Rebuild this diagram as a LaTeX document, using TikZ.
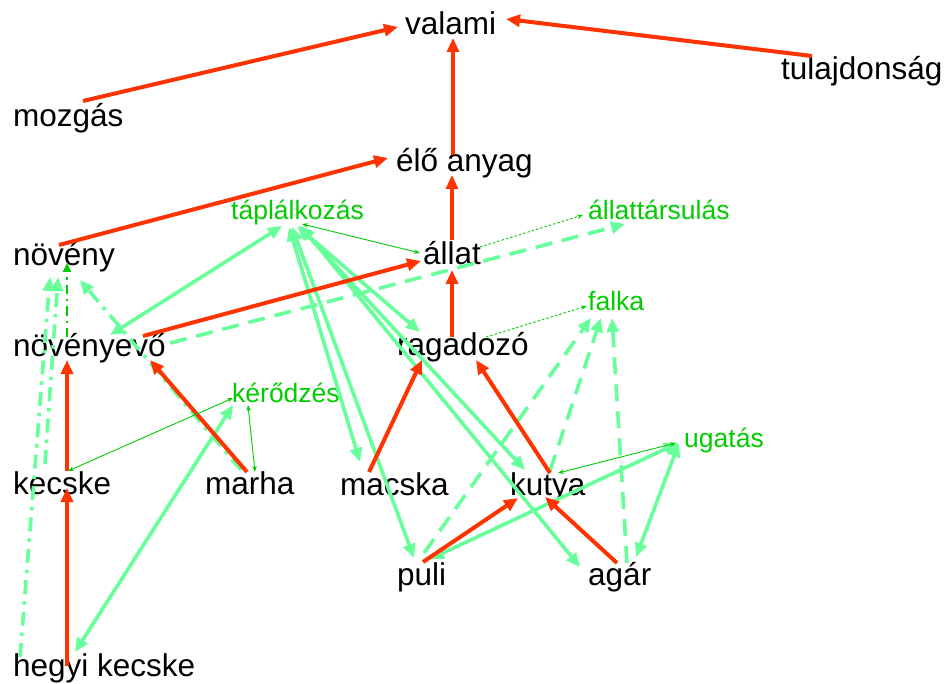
\documentclass[tikz,border=0pt]{standalone}
\usepackage{fontspec}
\setmainfont{Liberation Sans}
\usetikzlibrary{arrows.meta}
\definecolor{redc}{HTML}{FF3300}
\definecolor{lgreen}{HTML}{66FF99}
\definecolor{dgreen}{HTML}{00CC00}
\begin{document}
\begin{tikzpicture}[x=1pt,y=-1pt,
 concept/.style={anchor=base west,inner sep=0pt,font=\fontsize{31.5}{36}\selectfont,text=black},
 relation/.style={anchor=base west,inner sep=0pt,font=\fontsize{26.5}{30}\selectfont,text=dgreen},
 isa/.style={draw=redc,line width=4pt,-{Triangle[length=14pt,width=12pt]}},
 assoc/.style={draw=lgreen,line width=3.6pt,{Triangle[length=14pt,width=12pt]}-{Triangle[length=14pt,width=12pt]}},
 assocdash/.style={draw=lgreen,line width=3.6pt,dash pattern=on 17pt off 10pt,-{Triangle[length=14pt,width=12pt]}},
 assocdot/.style={draw=lgreen,line width=3.6pt,dash pattern=on 14pt off 7pt on 3.5pt off 7pt,-{Triangle[length=14pt,width=12pt]}},
 attr/.style={draw=dgreen,line width=0.9pt,{Stealth[length=6pt,width=4.5pt]}-{Stealth[length=6pt,width=4.5pt]}},
 attrdot/.style={draw=dgreen,line width=0.9pt,dash pattern=on 2.5pt off 2pt,-{Stealth[length=6pt,width=4.5pt]}},
 attrdd/.style={draw=dgreen,line width=2.2pt,dash pattern=on 9pt off 5pt on 2.5pt off 5pt,-{Triangle[length=9pt,width=8pt]}}
]
\fill[white] (0,0) rectangle (944,684);
\useasboundingbox (0,0) rectangle (944,684);

% concepts
\node[concept] (valami) at (405,35) {valami};
\node[concept] (tulaj) at (781,80) {tulajdonság};
\node[concept] (mozgas) at (13,127) {mozgás};
\node[concept] (elo) at (396,172) {élő anyag};
\node[concept] (noveny) at (13,266) {növény};
\node[concept] (allat) at (423,265) {állat};
\node[concept] (nevo) at (13,356) {növényevő};
\node[concept] (ragad) at (397,355) {ragadozó};
\node[concept] (kecske) at (13,494) {kecske};
\node[concept] (marha) at (205,494) {marha};
\node[concept] (macska) at (340,495) {macska};
\node[concept] (kutya) at (510,495) {kutya};
\node[concept] (puli) at (397,585) {puli};
\node[concept] (agar) at (588,585) {agár};
\node[concept] (hegyi) at (13,676) {hegyi kecske};
% relations
\node[relation] (tapl) at (231,220) {táplálkozás};
\node[relation] (atars) at (588,220) {állattársulás};
\node[relation] (falka) at (588,311) {falka};
\node[relation] (kero) at (232,402) {kérődzés};
\node[relation] (ugat) at (684,447) {ugatás};

% light green solid, double headed
\draw[assoc] ([shift={(97,-21)}]nevo.base west) -- ([shift={(51,6)}]tapl.base west);
\draw[assoc] ([shift={(58,7)}]tapl.base west) -- ([shift={(20,-33)}]macska.base west);
\draw[assoc] ([shift={(61,7)}]tapl.base west) -- ([shift={(17,-27)}]puli.base west);
\draw[assoc] ([shift={(66,6)}]tapl.base west) -- ([shift={(23,-23)}]ragad.base west);
\draw[assoc] ([shift={(68,6)}]tapl.base west) -- ([shift={(15,-25)}]kutya.base west);
\draw[assoc] ([shift={(70,6)}]tapl.base west) -- ([shift={(-8,-18)}]agar.base west);
\draw[assoc] ([shift={(62,-24)}]hegyi.base west) -- ([shift={(1,3)}]kero.base west);
\draw[assoc] ([shift={(33,-26)}]puli.base west) -- ([shift={(-6,-4)}]ugat.base west);
\draw[assoc] ([shift={(48,-28)}]agar.base west) -- ([shift={(-5,-4)}]ugat.base west);

% light green dashed
\draw[assocdash] ([shift={(157,-13)}]nevo.base west) -- ([shift={(37,4)}]atars.base west);
\draw[assocdash] ([shift={(27,-32)}]puli.base west) -- ([shift={(3,7)}]falka.base west);
\draw[assocdash] ([shift={(40,-24)}]kutya.base west) -- ([shift={(13,7)}]falka.base west);
\draw[assocdash] ([shift={(39,-22)}]agar.base west) -- ([shift={(24,7)}]falka.base west);

% light green dash-dot
\draw[assocdot] ([shift={(36,-24)}]marha.base west) -- ([shift={(67,14)}]noveny.base west);
\draw[assocdot] ([shift={(7,-19)}]hegyi.base west) -- ([shift={(37,11)}]noveny.base west);
\draw[assocdot] ([shift={(32,-30)}]kecske.base west) -- ([shift={(45,11)}]noveny.base west);

% red is-a links
\draw[isa] ([shift={(70,-26)}]mozgas.base west) -- ([shift={(-7,-8)}]valami.base west);
\draw[isa] ([shift={(31,-24)}]tulaj.base west) -- ([shift={(101,-16)}]valami.base west);
\draw[isa,line width=3.2pt] ([shift={(57,-17)}]elo.base west) -- ([shift={(48,3)}]valami.base west);
\draw[isa] ([shift={(46,-21)}]noveny.base west) -- ([shift={(-8,-14)}]elo.base west);
\draw[isa,line width=3.2pt] ([shift={(29,-25)}]allat.base west) -- ([shift={(56,3)}]elo.base west);
\draw[isa] ([shift={(130,-20)}]nevo.base west) -- ([shift={(-2,-4)}]allat.base west);
\draw[isa,line width=3.2pt] ([shift={(55,-18)}]ragad.base west) -- ([shift={(29,5)}]allat.base west);
\draw[isa] ([shift={(54,-23)}]kecske.base west) -- ([shift={(54,4)}]nevo.base west);
\draw[isa] ([shift={(54,-10)}]hegyi.base west) -- ([shift={(54,-6)}]kecske.base west);
\draw[isa] ([shift={(42,-22)}]marha.base west) -- ([shift={(137,4)}]nevo.base west);
\draw[isa] ([shift={(29,-23)}]macska.base west) -- ([shift={(25,5)}]ragad.base west);
\draw[isa] ([shift={(40,-22)}]kutya.base west) -- ([shift={(79,5)}]ragad.base west);
\draw[isa] ([shift={(26,-23)}]puli.base west) -- ([shift={(8,3)}]kutya.base west);
\draw[isa] ([shift={(29,-22)}]agar.base west) -- ([shift={(35,2)}]kutya.base west);

% thin dark green attribute links
\draw[attrdd] ([shift={(54,-19)}]nevo.base west) -- ([shift={(54,-3)}]noveny.base west);
\draw[attr] ([shift={(-3,-12)}]allat.base west) -- ([shift={(71,4)}]tapl.base west);
\draw[attrdot] ([shift={(57,-18)}]allat.base west) -- ([shift={(-5,-5)}]atars.base west);
\draw[attrdot] ([shift={(89,-18)}]ragad.base west) -- ([shift={(-1,-5)}]falka.base west);
\draw[attr] ([shift={(55,-23)}]kecske.base west) -- ([shift={(1,-4)}]kero.base west);
\draw[attr] ([shift={(50,-22)}]marha.base west) -- ([shift={(16,3)}]kero.base west);
\draw[attr] ([shift={(-8,-4)}]ugat.base west) -- ([shift={(48,-22)}]kutya.base west);
\end{tikzpicture}
\end{document}
